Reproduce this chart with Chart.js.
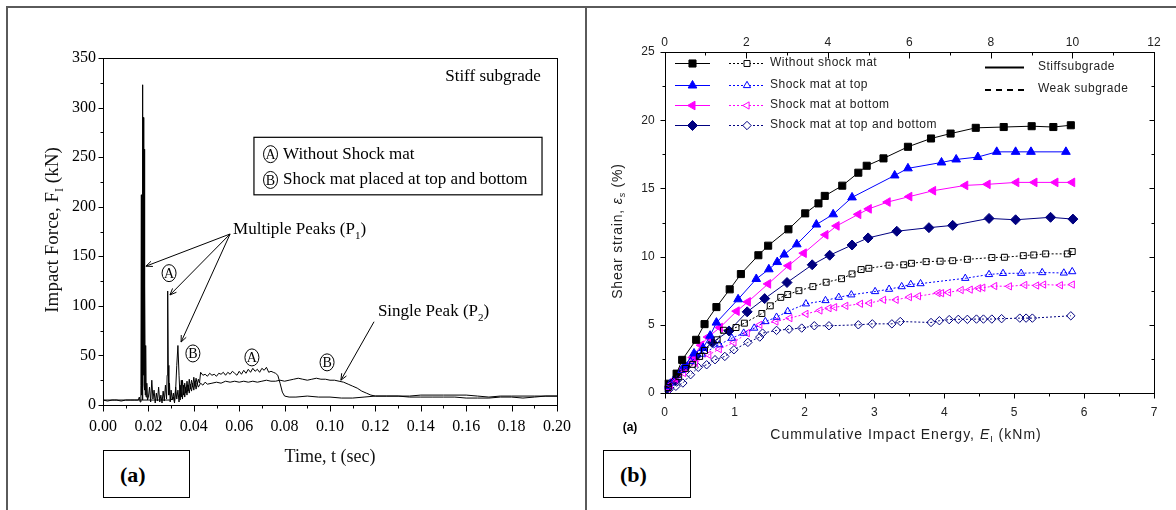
<!DOCTYPE html>
<html>
<head>
<meta charset="utf-8">
<script src="https://cdn.jsdelivr.net/npm/chart.js@4.4.1/dist/chart.umd.min.js"></script>
<style>
  body { margin: 0; background: #fff; width: 1176px; height: 510px; overflow: hidden; position: relative; }
  .rule { position: absolute; background: #5a5a5a; }
  .tag { position: absolute; border: 1.5px solid #000; box-sizing: border-box; }
  .tag span { position: absolute; font: bold 22px "Liberation Serif", serif; color: #000; }
  canvas { position: absolute; top: 0; }
</style>
</head>
<body>
<div class="rule" style="left:6px;top:6px;width:1170px;height:2px"></div>
<div class="rule" style="left:6px;top:6px;width:2px;height:504px"></div>
<div class="rule" style="left:585px;top:6px;width:2px;height:504px"></div>
<div class="tag" style="left:103px;top:450px;width:87px;height:48px"><span style="left:16px;top:11px">(a)</span></div>
<div class="tag" style="left:603px;top:450px;width:88px;height:48px"><span style="left:16px;top:11px">(b)</span></div>
<canvas id="chartA" width="585" height="510" style="left:0"></canvas>
<canvas id="chartB" width="589" height="510" style="left:587px"></canvas>
<script>
// ---------- panel (a): impact force vs time ----------
var timeA = [0, 0.002, 0.004, 0.006, 0.008, 0.010, 0.012, 0.014, 0.0155, 0.0160, 0.0164, 0.0167, 0.0169, 0.0170, 0.0172, 0.0173, 0.0175, 0.0176, 0.0178, 0.0179, 0.0180, 0.0181, 0.0182, 0.0183, 0.0185, 0.0186, 0.0188, 0.0190, 0.0193, 0.0196, 0.020, 0.0205, 0.021, 0.0215, 0.022, 0.0225, 0.023, 0.0235, 0.024, 0.0245, 0.025, 0.0255, 0.026, 0.0265, 0.027, 0.0275, 0.028, 0.02825, 0.0285, 0.02875, 0.029, 0.0293, 0.0296, 0.030, 0.0305, 0.031, 0.0315, 0.032, 0.0325, 0.033, 0.0335, 0.034, 0.0345, 0.035, 0.0355, 0.036, 0.0365, 0.037, 0.0375, 0.038, 0.0385, 0.039, 0.0395, 0.040, 0.0405, 0.041, 0.0415, 0.042, 0.0425, 0.043, 0.044, 0.045, 0.046, 0.047, 0.048, 0.049, 0.050, 0.051, 0.052, 0.053, 0.054, 0.055, 0.056, 0.057, 0.058, 0.059, 0.060, 0.061, 0.062, 0.063, 0.064, 0.065, 0.066, 0.067, 0.068, 0.069, 0.070, 0.071, 0.072, 0.073, 0.074, 0.075, 0.076, 0.077, 0.078, 0.079, 0.080, 0.082, 0.085, 0.090, 0.095, 0.100, 0.105, 0.110, 0.115, 0.120, 0.125, 0.130, 0.135, 0.140, 0.150, 0.160, 0.165, 0.170, 0.175, 0.180, 0.190, 0.200];
var forceA = [5, 4, 5, 5, 4, 5, 5, 5, 5, 8, 3, 20, 212, 10, 150, 5, 323, 40, 290, 30, 200, 20, 258, 15, 120, 10, 60, 8, 22, 5, 8, 18, 3, 25, 6, 15, 2, 12, 4, 18, 3, 10, 2, 14, 4, 20, 6, 30, 115, 40, 10, 22, 3, 15, 5, 12, 2, 18, 6, 15, 3, 20, 8, 25, 10, 22, 12, 24, 14, 26, 16, 25, 18, 28, 20, 27, 21, 26, 22, 33, 30, 31, 29, 32, 30, 31, 29, 32, 31, 33, 30, 33, 31, 34, 32, 30, 34, 31, 35, 32, 36, 33, 37, 34, 36, 33, 37, 35, 38, 33, 34, 33, 32, 30, 22, 13, 9, 8, 8, 9, 8, 8, 7, 7, 8, 9, 9, 9, 9, 10, 10, 10, 9, 8, 9, 9, 9, 9];
var timeB = [0, 0.005, 0.010, 0.015, 0.020, 0.025, 0.030, 0.031, 0.0315, 0.032, 0.0325, 0.033, 0.0335, 0.034, 0.0345, 0.035, 0.0355, 0.036, 0.0365, 0.037, 0.0375, 0.038, 0.0385, 0.039, 0.0395, 0.040, 0.0405, 0.041, 0.0415, 0.042, 0.043, 0.044, 0.045, 0.046, 0.048, 0.050, 0.052, 0.054, 0.056, 0.058, 0.060, 0.062, 0.064, 0.066, 0.068, 0.070, 0.072, 0.074, 0.076, 0.078, 0.080, 0.082, 0.084, 0.086, 0.088, 0.090, 0.092, 0.094, 0.096, 0.098, 0.100, 0.102, 0.104, 0.106, 0.108, 0.110, 0.112, 0.114, 0.116, 0.118, 0.120, 0.125, 0.130, 0.135, 0.140, 0.145, 0.150, 0.155, 0.160, 0.165, 0.170, 0.175, 0.180, 0.185, 0.190, 0.195, 0.200];
var forceB = [5, 5, 5, 5, 5, 5, 5, 8, 3, 15, 40, 60, 30, 5, 25, 6, 20, 8, 18, 10, 20, 12, 21, 14, 22, 15, 23, 16, 22, 18, 22, 20, 23, 21, 22, 23, 22, 24, 23, 24, 23, 24, 23, 24, 23, 24, 25, 24, 24, 25, 24, 25, 26, 27, 26, 25, 26, 27, 26, 26, 25, 25, 24, 23, 21, 19, 17, 14, 12, 10, 9, 9, 9, 8, 8, 8, 8, 8, 7, 7, 7, 8, 8, 7, 8, 9, 9];
var timeTicks = [0, 0.02, 0.04, 0.06, 0.08, 0.10, 0.12, 0.14, 0.16, 0.18, 0.20];
var forceTicks = [0, 50, 100, 150, 200, 250, 300, 350];

// ---------- panel (b): shear strain vs cumulative energy ----------
var eStiffNone = [0.05, 0.17, 0.25, 0.45, 0.57, 0.74, 0.93, 1.09, 1.34, 1.48, 1.77, 2.01, 2.20, 2.29, 2.54, 2.77, 2.89, 3.13, 3.48, 3.81, 4.09, 4.45, 4.85, 5.25, 5.56, 5.81];
var sStiffNone = [0.68, 1.42, 2.43, 3.9, 5.05, 6.3, 7.6, 8.72, 10.1, 10.8, 12.0, 13.17, 13.9, 14.45, 15.2, 16.15, 16.66, 17.2, 18.05, 18.66, 19.02, 19.44, 19.5, 19.56, 19.5, 19.63];
var eStiffTop = [0.05, 0.17, 0.28, 0.42, 0.55, 0.65, 0.74, 1.05, 1.31, 1.49, 1.61, 1.71, 1.89, 2.17, 2.41, 2.68, 3.29, 3.48, 3.96, 4.17, 4.48, 4.75, 5.02, 5.24, 5.74];
var sStiffTop = [0.5, 1.3, 2.0, 2.9, 3.3, 4.2, 5.16, 6.87, 8.36, 9.07, 9.6, 10.15, 10.9, 12.35, 13.1, 14.34, 15.95, 16.47, 16.9, 17.12, 17.3, 17.68, 17.68, 17.68, 17.68];
var eStiffBottom = [0.05, 0.15, 0.27, 0.40, 0.52, 0.62, 0.79, 1.03, 1.19, 1.48, 1.77, 1.99, 2.30, 2.46, 2.77, 2.92, 3.19, 3.50, 3.84, 4.30, 4.62, 5.03, 5.29, 5.59, 5.83];
var sStiffBottom = [0.4, 1.0, 1.8, 2.6, 3.5, 4.1, 4.8, 6.0, 6.68, 8.0, 9.33, 10.25, 11.6, 12.25, 13.1, 13.5, 14.0, 14.4, 14.83, 15.22, 15.3, 15.44, 15.44, 15.44, 15.44];
var eStiffBoth = [0.03, 0.15, 0.30, 0.45, 0.68, 0.92, 1.18, 1.43, 1.75, 2.11, 2.36, 2.68, 2.91, 3.32, 3.78, 4.12, 4.64, 5.02, 5.52, 5.84];
var sStiffBoth = [0.3, 0.9, 1.9, 2.7, 3.7, 4.55, 5.95, 6.92, 8.1, 9.4, 10.1, 10.85, 11.37, 11.86, 12.12, 12.29, 12.8, 12.7, 12.88, 12.75];
var eWeakNone = [0.05, 0.2, 0.3, 0.4, 0.5, 0.57, 0.75, 0.84, 1.02, 1.14, 1.39, 1.51, 1.66, 1.76, 1.92, 2.12, 2.31, 2.53, 2.68, 2.81, 2.92, 3.21, 3.42, 3.53, 3.74, 3.94, 4.12, 4.33, 4.68, 4.86, 5.13, 5.28, 5.45, 5.76, 5.83];
var sWeakNone = [0.4, 1.2, 1.8, 2.1, 2.68, 3.12, 3.9, 4.6, 4.8, 5.12, 5.83, 6.39, 7.01, 7.22, 7.5, 7.8, 8.12, 8.38, 8.73, 9.05, 9.14, 9.37, 9.4, 9.51, 9.63, 9.66, 9.7, 9.8, 9.93, 9.95, 10.07, 10.12, 10.2, 10.2, 10.37];
var eWeakTop = [0.08, 0.24, 0.37, 0.53, 0.78, 0.96, 1.13, 1.28, 1.44, 1.60, 1.76, 2.02, 2.30, 2.49, 2.67, 3.01, 3.21, 3.39, 3.52, 3.66, 4.30, 4.64, 4.84, 5.10, 5.40, 5.71, 5.83];
var sWeakTop = [0.73, 1.66, 2.32, 2.85, 3.54, 4.02, 4.39, 4.76, 5.24, 5.56, 5.98, 6.54, 6.78, 7.02, 7.2, 7.44, 7.61, 7.8, 7.96, 8.02, 8.41, 8.69, 8.77, 8.78, 8.83, 8.8, 8.9];
var eWeakBottom = [0.08, 0.27, 0.44, 0.63, 0.78, 0.99, 1.18, 1.36, 1.59, 1.79, 2.02, 2.22, 2.35, 2.43, 2.59, 2.80, 2.93, 3.13, 3.31, 3.50, 3.63, 3.91, 3.96, 4.06, 4.24, 4.37, 4.49, 4.55, 4.72, 4.93, 5.15, 5.32, 5.42, 5.66, 5.83];
var sWeakBottom = [0.6, 1.46, 2.2, 2.8, 3.22, 3.71, 4.39, 5.0, 5.24, 5.49, 5.8, 6.05, 6.22, 6.29, 6.39, 6.54, 6.59, 6.83, 6.83, 7.03, 7.1, 7.33, 7.32, 7.37, 7.55, 7.58, 7.68, 7.72, 7.84, 7.82, 7.92, 7.88, 7.95, 7.9, 7.95];
var eWeakBoth = [0.06, 0.16, 0.26, 0.37, 0.48, 0.60, 0.72, 0.86, 0.99, 1.19, 1.36, 1.40, 1.60, 1.78, 1.96, 2.14, 2.35, 2.77, 2.97, 3.25, 3.37, 3.81, 3.93, 4.07, 4.20, 4.33, 4.46, 4.56, 4.68, 4.82, 5.08, 5.17, 5.26, 5.81];
var sWeakBoth = [0.24, 0.49, 0.73, 1.34, 1.88, 2.07, 2.44, 2.68, 3.17, 3.71, 4.1, 4.39, 4.59, 4.68, 4.76, 4.93, 4.93, 5.0, 5.07, 5.07, 5.24, 5.17, 5.3, 5.38, 5.4, 5.4, 5.42, 5.42, 5.42, 5.45, 5.49, 5.49, 5.49, 5.66];
var energyTicks = [0, 1, 2, 3, 4, 5, 6, 7];
var blowTicks = [0, 2, 4, 6, 8, 10, 12];
var strainTicks = [0, 5, 10, 15, 20, 25];

var SERIF = '"Liberation Serif", "Times New Roman", serif';
var SANS = '"Liberation Sans", Arial, sans-serif';

function pts(xs, ys) {
  return xs.map(function (v, i) { return { x: v, y: ys[i] }; });
}

// text made of pieces: {t, sub, it}
function rich(ctx, parts, x, y, size, family, align, spacing) {
  ctx.letterSpacing = (spacing || 0) + 'px';
  var fontOf = function (p) {
    return (p.it ? 'italic ' : '') + (p.sub ? Math.round(size * 0.65) : size) + 'px ' + family;
  };
  var w = 0;
  parts.forEach(function (p) { ctx.font = fontOf(p); w += ctx.measureText(p.t).width; });
  var cx = align === 'center' ? x - w / 2 : x;
  ctx.textAlign = 'left';
  ctx.textBaseline = 'middle';
  parts.forEach(function (p) {
    ctx.font = fontOf(p);
    ctx.fillText(p.t, cx, p.sub ? y + size * 0.35 : y);
    cx += ctx.measureText(p.t).width;
  });
  ctx.letterSpacing = '0px';
}

function arrow(ctx, x1, y1, x2, y2) {
  var a = Math.atan2(y2 - y1, x2 - x1), h = 7;
  ctx.beginPath();
  ctx.moveTo(x1, y1); ctx.lineTo(x2, y2);
  ctx.moveTo(x2 - h * Math.cos(a - 0.4), y2 - h * Math.sin(a - 0.4));
  ctx.lineTo(x2, y2);
  ctx.lineTo(x2 - h * Math.cos(a + 0.4), y2 - h * Math.sin(a + 0.4));
  ctx.stroke();
}

function circled(ctx, ch, cx, cy) {
  ctx.beginPath();
  ctx.ellipse(cx, cy, 7, 8.5, 0, 0, Math.PI * 2);
  ctx.stroke();
  ctx.font = '14px ' + SERIF;
  ctx.textAlign = 'center';
  ctx.textBaseline = 'middle';
  ctx.fillText(ch, cx, cy + 1);
}

// tick marks along an axis (negative length = up/left)
function ticksX(ctx, scale, vals, yPos, len) {
  vals.forEach(function (v) {
    var px = Math.round(scale.getPixelForValue(v)) + 0.5;
    ctx.beginPath(); ctx.moveTo(px, yPos); ctx.lineTo(px, yPos + len); ctx.stroke();
  });
}
function ticksY(ctx, scale, vals, xPos, len) {
  vals.forEach(function (v) {
    var py = Math.round(scale.getPixelForValue(v)) + 0.5;
    ctx.beginPath(); ctx.moveTo(xPos, py); ctx.lineTo(xPos + len, py); ctx.stroke();
  });
}
function range(a, b, s) {
  var out = [];
  for (var v = a; v <= b + 1e-9; v += s) out.push(+v.toFixed(4));
  return out;
}
function fixTicks(list) {
  return function (scale) { scale.ticks = list.map(function (v) { return { value: v }; }); };
}

var panelA = {
  id: 'panelA',
  afterDraw: function (chart) {
    var ctx = chart.ctx, a = chart.chartArea, x = chart.scales.x, y = chart.scales.y;
    var X = function (v) { return x.getPixelForValue(v); };
    var Y = function (v) { return y.getPixelForValue(v); };
    ctx.save();
    ctx.strokeStyle = '#000';
    ctx.fillStyle = '#000';
    ctx.lineWidth = 1;
    ctx.strokeRect(Math.round(a.left) + 0.5, Math.round(a.top) + 0.5, Math.round(a.right - a.left), Math.round(a.bottom - a.top));
    var bottom = Math.round(a.bottom) + 0.5, left = Math.round(a.left) + 0.5;
    ticksX(ctx, x, range(0, 0.2, 0.02), bottom, 6);
    ticksX(ctx, x, range(0.01, 0.19, 0.02), bottom, 3);
    ticksY(ctx, y, range(0, 350, 50), left, -5);
    ticksY(ctx, y, range(25, 325, 50), left, -3);

    // titles
    ctx.fillStyle = '#111';
    rich(ctx, [{ t: 'Time, t (sec)' }], 330, 457, 18, SERIF, 'center');
    ctx.save();
    ctx.translate(53, 230);
    ctx.rotate(-Math.PI / 2);
    rich(ctx, [{ t: 'Impact Force, F' }, { t: 'I', sub: true }, { t: ' (kN)' }], 0, 0, 19, SERIF, 'center');
    ctx.restore();

    ctx.fillStyle = '#000';
    rich(ctx, [{ t: 'Stiff subgrade' }], X(0.1718), Y(331), 17, SERIF, 'center');

    // key box
    var bx1 = X(0.0665), bx2 = X(0.1934), by1 = Y(270), by2 = Y(212);
    ctx.lineWidth = 1.2;
    ctx.strokeRect(bx1, by1, bx2 - bx1, by2 - by1);
    ctx.lineWidth = 1;
    circled(ctx, 'A', X(0.0738), Y(253));
    circled(ctx, 'B', X(0.0738), Y(227));
    rich(ctx, [{ t: 'Without Shock mat' }], X(0.0793), Y(253), 17, SERIF, 'left');
    rich(ctx, [{ t: 'Shock mat placed at top and bottom' }], X(0.0793), Y(227), 17, SERIF, 'left');

    // peak notes
    rich(ctx, [{ t: 'Multiple Peaks (P' }, { t: '1', sub: true }, { t: ')' }], X(0.0573), Y(176.5), 17, SERIF, 'left');
    arrow(ctx, X(0.056), Y(172.5), X(0.0189), Y(140));
    arrow(ctx, X(0.056), Y(172.5), X(0.0295), Y(111));
    arrow(ctx, X(0.056), Y(172.5), X(0.0344), Y(63.5));
    rich(ctx, [{ t: 'Single Peak (P' }, { t: '2', sub: true }, { t: ')' }], X(0.1211), Y(94), 17, SERIF, 'left');
    arrow(ctx, X(0.1194), Y(84), X(0.1048), Y(25));

    circled(ctx, 'A', X(0.0291), Y(133));
    circled(ctx, 'B', X(0.0396), Y(52));
    circled(ctx, 'A', X(0.0656), Y(48));
    circled(ctx, 'B', X(0.0987), Y(43));
    ctx.restore();
  }
};

new Chart(document.getElementById('chartA').getContext('2d'), {
  type: 'scatter',
  data: {
    datasets: [
      { label: 'Without Shock mat', data: pts(timeA, forceA), showLine: true, borderColor: '#000', borderWidth: 1, pointRadius: 0, tension: 0 },
      { label: 'Shock mat placed at top and bottom', data: pts(timeB, forceB), showLine: true, borderColor: '#000', borderWidth: 1, pointRadius: 0, tension: 0 }
    ]
  },
  options: {
    responsive: false,
    animation: false,
    layout: { padding: { left: 43, right: 28, top: 58, bottom: 65 } },
    plugins: { legend: { display: false }, tooltip: { enabled: false } },
    scales: {
      x: {
        type: 'linear', min: 0, max: 0.2,
        afterBuildTicks: fixTicks(timeTicks),
        afterFit: function (s) { s.height = 40; },
        grid: { display: false, drawTicks: false },
        border: { display: false },
        ticks: { padding: 12, maxRotation: 0, color: '#000', font: { family: SERIF, size: 16 }, callback: function (v) { return v.toFixed(2); } }
      },
      y: {
        min: 0, max: 350,
        afterBuildTicks: fixTicks(forceTicks),
        afterFit: function (s) { s.width = 60; },
        grid: { display: false, drawTicks: false },
        border: { display: false },
        ticks: { padding: 7, color: '#000', font: { family: SERIF, size: 16 } }
      }
    }
  },
  plugins: [panelA]
});

// ---------- panel (b) ----------
var BLACK = '#000000', BLUE = '#0000ff', PINK = '#ff00ff', NAVY = '#000080';

var stiffStyles = [
  { label: 'Without shock mat', c: BLACK, p: 'rect', r: 5, rot: 0 },
  { label: 'Shock mat at top', c: BLUE, p: 'triangle', r: 5, rot: 0 },
  { label: 'Shock mat at bottom', c: PINK, p: 'triangle', r: 5, rot: -90 },
  { label: 'Shock mat at top and bottom', c: NAVY, p: 'rectRot', r: 5, rot: 0 }
];

function stiffSet(i, xs, ys) {
  var s = stiffStyles[i];
  return { label: s.label + ' (stiff)', data: pts(xs, ys), showLine: true, borderColor: s.c, borderWidth: 1,
    pointStyle: s.p, pointRotation: s.rot, pointRadius: s.r, pointBackgroundColor: s.c, pointBorderColor: s.c, pointBorderWidth: 1, tension: 0 };
}
function weakSet(i, xs, ys) {
  var s = stiffStyles[i];
  return { label: s.label + ' (weak)', data: pts(xs, ys), showLine: true, borderColor: s.c, borderWidth: 1, borderDash: [2, 2],
    pointStyle: s.p, pointRotation: s.rot, pointRadius: s.r - 0.8, pointBackgroundColor: 'rgba(255,255,255,0)', pointBorderColor: s.c, pointBorderWidth: 1, tension: 0 };
}

function marker(ctx, s, x, y, filled) {
  ctx.save();
  ctx.fillStyle = filled ? s.c : '#fff';
  ctx.strokeStyle = s.c;
  ctx.lineWidth = 1;
  ctx.setLineDash([]);
  Chart.helpers.drawPoint(ctx, { pointStyle: s.p, rotation: s.rot, radius: filled ? s.r : s.r - 0.8, borderWidth: 1 }, x, y);
  ctx.restore();
}

var panelB = {
  id: 'panelB',
  afterDraw: function (chart) {
    var ctx = chart.ctx, a = chart.chartArea, x = chart.scales.x, y = chart.scales.y, n = chart.scales.n;
    ctx.save();
    ctx.strokeStyle = '#000';
    ctx.lineWidth = 1;
    var L = Math.round(a.left) + 0.5, R = Math.round(a.right) + 0.5, T = Math.round(a.top) + 0.5, B = Math.round(a.bottom) + 0.5;
    ctx.strokeRect(L, T, R - L, B - T);
    ticksX(ctx, x, range(0, 7, 1), B, 5);
    ticksX(ctx, x, range(0.5, 6.5, 1), B, 3);
    ticksY(ctx, y, range(0, 25, 5), L, -5);
    ticksY(ctx, y, range(2.5, 22.5, 5), L, -3);
    ticksY(ctx, y, range(0, 25, 5), R, -5);
    ticksY(ctx, y, range(2.5, 22.5, 5), R, -3);
    ticksX(ctx, n, range(0, 12, 2), T, 6);
    ticksX(ctx, n, range(1, 11, 2), T, 3);

    // titles
    ctx.fillStyle = '#222';
    rich(ctx, [{ t: 'Number of blows, ' }, { t: 'N', it: true }], 904, 24, 14, SANS, 'center', 1.2);
    rich(ctx, [{ t: 'Cummulative Impact Energy, ' }, { t: 'E', it: true }, { t: 'I', sub: true }, { t: ' (kNm)' }], 906 - 587, 435, 14, SANS, 'center', 1);
    ctx.save();
    ctx.translate(618 - 587, 231);
    ctx.rotate(-Math.PI / 2);
    rich(ctx, [{ t: 'Shear strain, ' }, { t: '\u03b5', it: true }, { t: 's', sub: true, it: true }, { t: ' (%)' }], 0, 0, 14, SANS, 'center', 0.8);
    ctx.restore();
    ctx.font = 'bold 12px ' + SANS;
    ctx.fillStyle = '#000';
    ctx.textAlign = 'center';
    ctx.textBaseline = 'middle';
    ctx.fillText('(a)', 630 - 587, 428);

    // key
    var rows = [63, 85, 104.5, 124.5];
    stiffStyles.forEach(function (s, i) {
      var ry = Math.round(rows[i]) + 0.5;
      ctx.strokeStyle = s.c;
      ctx.lineWidth = 1;
      ctx.setLineDash([]);
      ctx.beginPath(); ctx.moveTo(88, ry); ctx.lineTo(123, ry); ctx.stroke();
      marker(ctx, s, 105.5, ry, true);
      ctx.strokeStyle = s.c;
      ctx.setLineDash([2, 2]);
      ctx.beginPath(); ctx.moveTo(142, ry); ctx.lineTo(178, ry); ctx.stroke();
      ctx.setLineDash([]);
      marker(ctx, s, 160, ry, false);
      ctx.fillStyle = '#222';
      rich(ctx, [{ t: s.label }], 183, rows[i], 12, SANS, 'left', 0.5);
    });
    ctx.strokeStyle = '#000';
    ctx.lineWidth = 2;
    ctx.beginPath(); ctx.moveTo(398, 67.5); ctx.lineTo(437, 67.5); ctx.stroke();
    ctx.setLineDash([6, 5]);
    ctx.beginPath(); ctx.moveTo(398, 90); ctx.lineTo(437, 90); ctx.stroke();
    ctx.setLineDash([]);
    ctx.fillStyle = '#222';
    rich(ctx, [{ t: 'Stiffsubgrade' }], 451, 67, 12, SANS, 'left', 0.5);
    rich(ctx, [{ t: 'Weak subgrade' }], 451, 89, 12, SANS, 'left', 0.5);
    ctx.restore();
  }
};

new Chart(document.getElementById('chartB').getContext('2d'), {
  type: 'scatter',
  data: {
    datasets: [
      weakSet(0, eWeakNone, sWeakNone),
      weakSet(1, eWeakTop, sWeakTop),
      weakSet(2, eWeakBottom, sWeakBottom),
      weakSet(3, eWeakBoth, sWeakBoth),
      stiffSet(0, eStiffNone, sStiffNone),
      stiffSet(1, eStiffTop, sStiffTop),
      stiffSet(2, eStiffBottom, sStiffBottom),
      stiffSet(3, eStiffBoth, sStiffBoth)
    ]
  },
  options: {
    responsive: false,
    animation: false,
    layout: { padding: { left: 37.7, right: 22, top: 22, bottom: 87 } },
    plugins: { legend: { display: false }, tooltip: { enabled: false } },
    scales: {
      x: {
        type: 'linear', position: 'bottom', min: 0, max: 7,
        afterBuildTicks: fixTicks(energyTicks),
        afterFit: function (s) { s.height = 30; },
        grid: { display: false, drawTicks: false },
        border: { display: false },
        ticks: { padding: 12, maxRotation: 0, color: '#222', font: { family: SANS, size: 12 } }
      },
      n: {
        type: 'linear', position: 'top', axis: 'x', min: 0, max: 12,
        afterBuildTicks: fixTicks(blowTicks),
        afterFit: function (s) { s.height = 30; },
        grid: { display: false, drawTicks: false },
        border: { display: false },
        ticks: { padding: 2, maxRotation: 0, color: '#222', font: { family: SANS, size: 12 } }
      },
      y: {
        min: 0, max: 25,
        afterBuildTicks: fixTicks(strainTicks),
        afterFit: function (s) { s.width = 40; },
        grid: { display: false, drawTicks: false },
        border: { display: false },
        ticks: { padding: 10, color: '#222', font: { family: SANS, size: 12 } }
      }
    }
  },
  plugins: [panelB]
});
</script>
</body>
</html>
